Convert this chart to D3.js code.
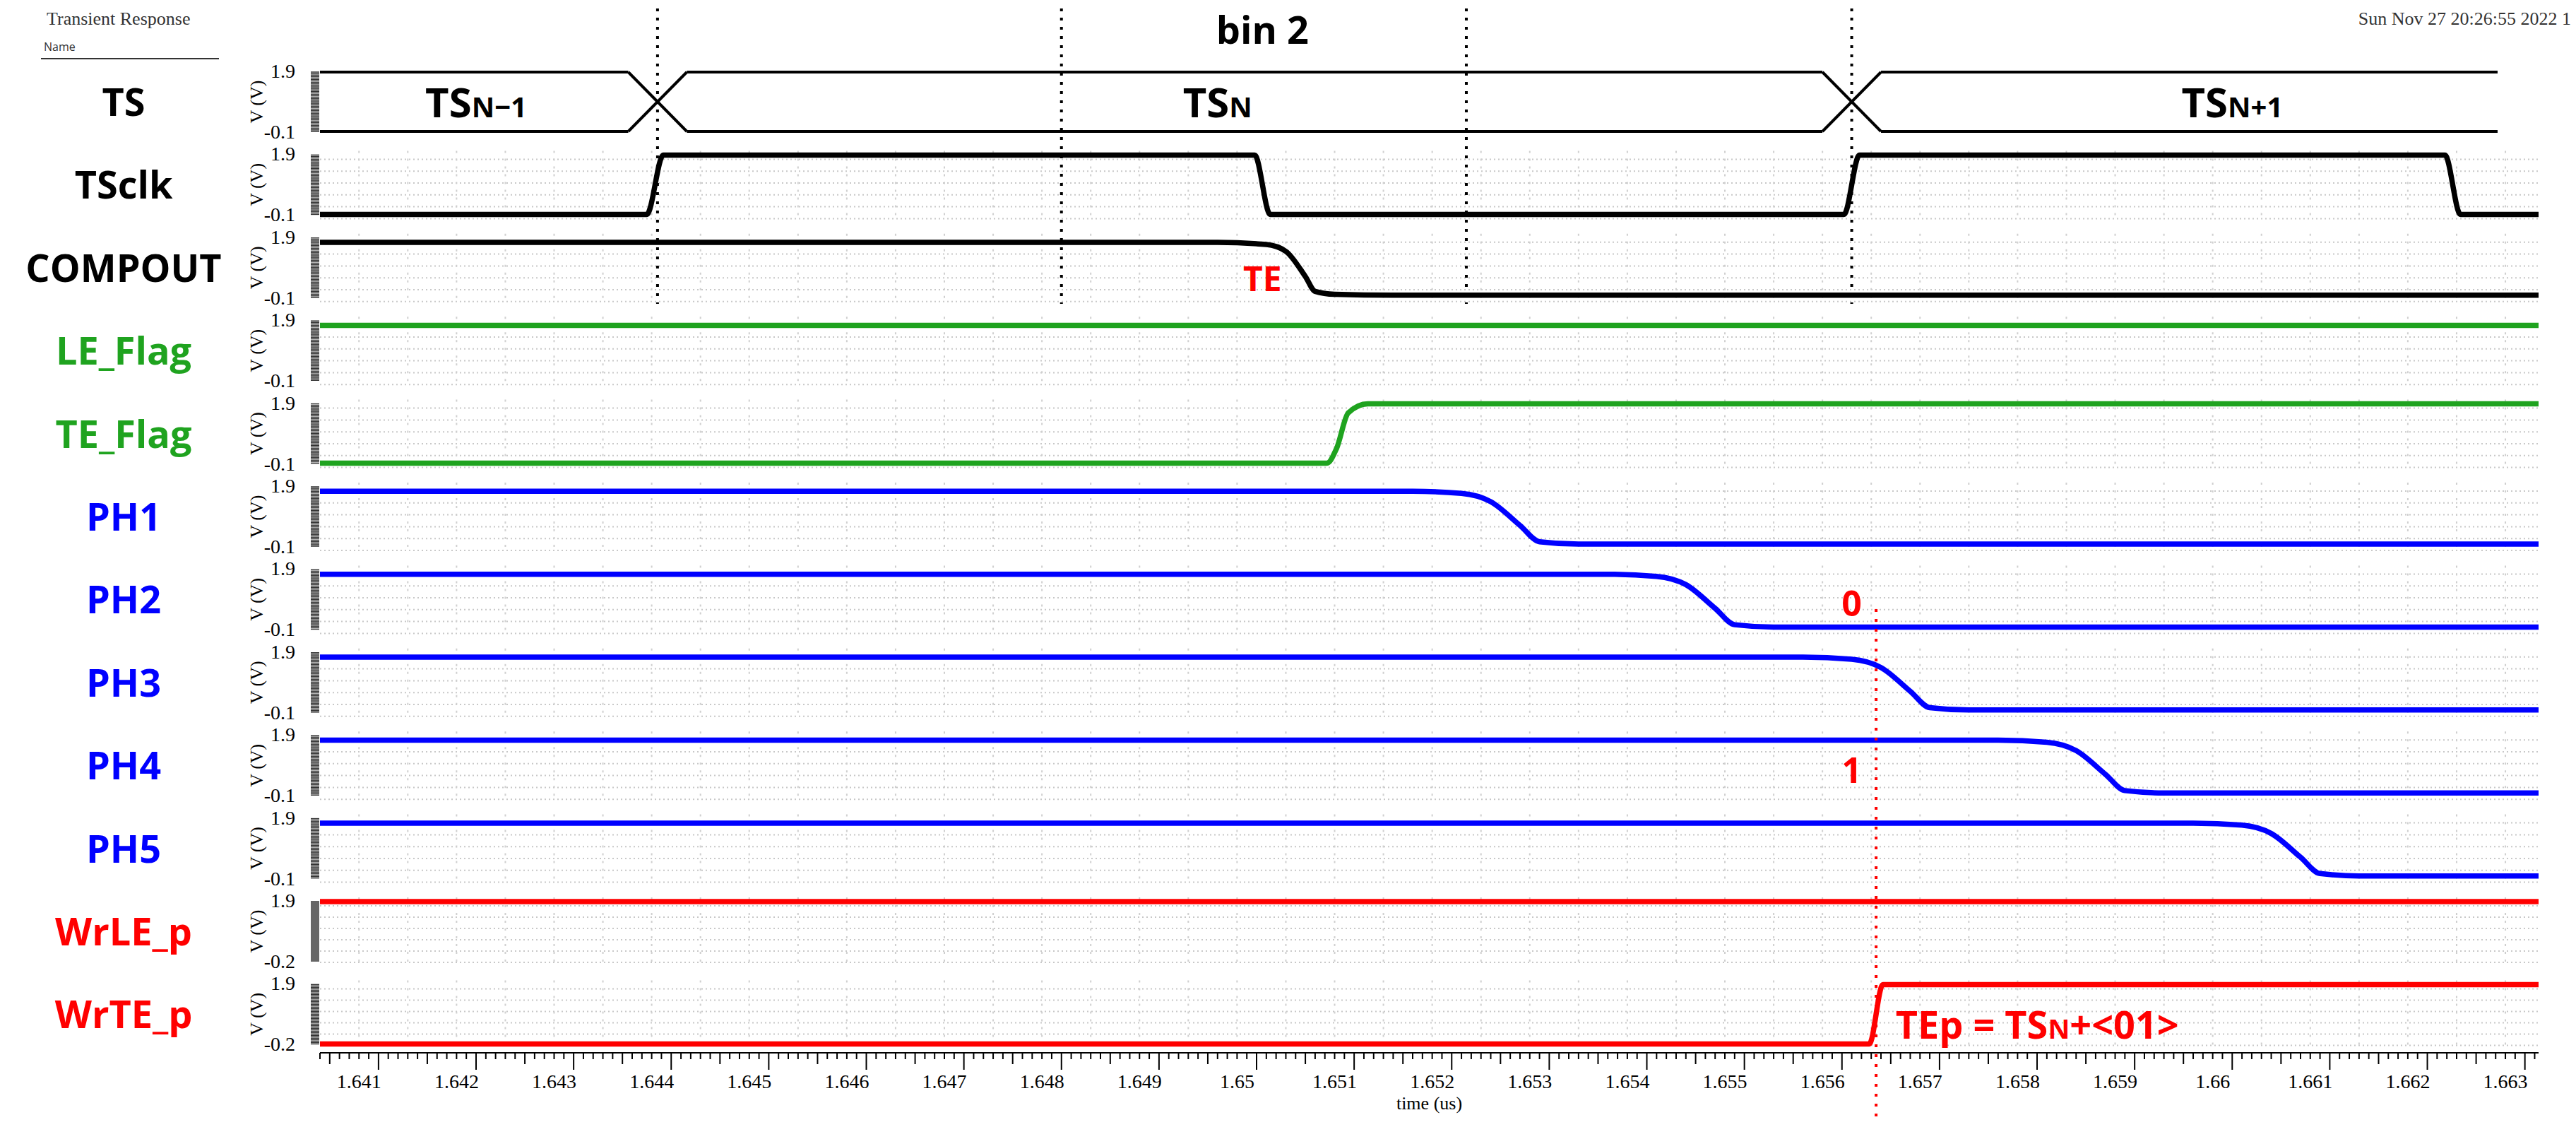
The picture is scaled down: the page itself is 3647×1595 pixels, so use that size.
<!DOCTYPE html>
<html><head><meta charset="utf-8">
<script src="https://cdn.jsdelivr.net/npm/d3@7"></script>
<style>body{margin:0;background:#fff}</style>
</head><body>
<svg id="chart" width="3647" height="1595"></svg>
<script>
// signal names & colours, top to bottom
const names = ['TS', 'TSclk', 'COMPOUT', 'LE_Flag', 'TE_Flag', 'PH1', 'PH2', 'PH3', 'PH4', 'PH5', 'WrLE_p', 'WrTE_p'];
const colors = ['#000', '#000', '#000', '#1fa31f', '#1fa31f', '#0000ff', '#0000ff', '#0000ff', '#0000ff', '#0000ff', '#ff0000', '#ff0000'];
const yMin = [-0.1, -0.1, -0.1, -0.1, -0.1, -0.1, -0.1, -0.1, -0.1, -0.1, -0.2, -0.2];
const xTicks = [1.641, 1.642, 1.643, 1.644, 1.645, 1.646, 1.647, 1.648, 1.649, 1.65, 1.651, 1.652,
  1.653, 1.654, 1.655, 1.656, 1.657, 1.658, 1.659, 1.66, 1.661, 1.662, 1.663];

// waveforms as [time (us), volts]
const tsclk = [[1.6406, -0.1], [1.64395, -0.1], [1.64412, 1.9], [1.65018, 1.9], [1.65034, -0.1],
  [1.65622, -0.1], [1.65638, 1.9], [1.66238, 1.9], [1.66254, -0.1], [1.66334, -0.1]];
const compout = [[1.6406, 1.75], [1.6498, 1.75], [1.6503, 1.68], [1.6505, 1.45], [1.6507, 0.6],
  [1.6508, 0.1], [1.651, 0.0], [1.6516, -0.03], [1.66334, -0.03]];
const leFlag = [[1.6406, 1.75], [1.66334, 1.75]];
const teFlag = [[1.6406, -0.1], [1.65092, -0.1], [1.65102, 0.4], [1.65114, 1.6], [1.65134, 1.9],
  [1.66334, 1.9]];
const ph1 = [[1.6406, 1.75], [1.6518, 1.75], [1.6523, 1.68], [1.6526, 1.4], [1.6529, 0.6],
  [1.6531, 0.05], [1.6535, -0.03], [1.66334, -0.03]];
const ph2 = [[1.6406, 1.75], [1.6538, 1.75], [1.6543, 1.68], [1.6546, 1.4], [1.6549, 0.6],
  [1.6551, 0.05], [1.6555, -0.03], [1.66334, -0.03]];
const ph3 = [[1.6406, 1.75], [1.6558, 1.75], [1.6563, 1.68], [1.6566, 1.4], [1.6569, 0.6],
  [1.6571, 0.05], [1.6575, -0.03], [1.66334, -0.03]];
const ph4 = [[1.6406, 1.75], [1.6578, 1.75], [1.6583, 1.68], [1.6586, 1.4], [1.6589, 0.6],
  [1.6591, 0.05], [1.6595, -0.03], [1.66334, -0.03]];
const ph5 = [[1.6406, 1.75], [1.6598, 1.75], [1.6603, 1.68], [1.6606, 1.4], [1.6609, 0.6],
  [1.6611, 0.05], [1.6615, -0.03], [1.66334, -0.03]];
const wrLE = [[1.6406, 1.9], [1.66334, 1.9]];
const wrTE = [[1.6406, -0.2], [1.65648, -0.2], [1.65662, 1.9], [1.66334, 1.9]];
const waves = [null, tsclk, compout, leFlag, teFlag, ph1, ph2, ph3, ph4, ph5, wrLE, wrTE];

// TS bus: crossing times and segment labels
const tsCross = [1.64406, 1.6563];
const tsEnd = 1.66292;
const tsLabels = [[1.6422, 'TS', 'N\u22121'], [1.6498, 'TS', 'N'], [1.6602, 'TS', 'N+1']];
const markers = [1.64406, 1.6482, 1.65235, 1.6563];
const redMarker = 1.65655;

const svg = d3.select('#chart');
const x = d3.scaleLinear().domain([1.6406, 1.66334]).range([453, 3594]);
const pitch = 117.4;
const top0 = 102;
const serif = '"Liberation Serif", serif';
const sans = '"Open Sans", sans-serif';

const panelY = (i) => d3.scaleLinear().domain([yMin[i], 1.9]).range([top0 + i * pitch + 84, top0 + i * pitch]);

// grid + y axes
names.forEach((n, i) => {
  const y = panelY(i);
  const g = svg.append('g');
  if (i > 0) {
    g.selectAll('line.h').data(d3.range(6)).join('line')
      .attr('x1', x.range()[0]).attr('x2', x.range()[1])
      .attr('y1', (d) => y(-0.1) - d * (y(-0.1) - y(1.9)) / 5 + 6)
      .attr('y2', (d) => y(-0.1) - d * (y(-0.1) - y(1.9)) / 5 + 6)
      .attr('stroke', '#c8c8c8').attr('stroke-width', 2).attr('stroke-dasharray', '2,4');
    g.selectAll('line.v').data(d3.range(1.641, 1.6634, 0.0005)).join('line')
      .attr('x1', (d) => x(d)).attr('x2', (d) => x(d))
      .attr('y1', y(1.9) - 6).attr('y2', y(yMin[i]) + 8)
      .attr('stroke', '#cfcfcf').attr('stroke-width', 2).attr('stroke-dasharray', '3,8');
  }
  g.selectAll('line.t').data(d3.range(yMin[i], 1.901, 0.05)).join('line')
    .attr('x1', 440).attr('x2', 452)
    .attr('y1', (d) => y(d)).attr('y2', (d) => y(d))
    .attr('stroke', '#333').attr('stroke-width', 1.5);
  g.append('text').attr('x', 418).attr('y', y(1.9) + 8).attr('text-anchor', 'end')
    .attr('font-family', serif).attr('font-size', 28).text('1.9');
  g.append('text').attr('x', 418).attr('y', y(yMin[i]) + 10).attr('text-anchor', 'end')
    .attr('font-family', serif).attr('font-size', 28).text(String(yMin[i]));
  g.append('text').attr('transform', `translate(372,${(y(1.9) + y(yMin[i])) / 2}) rotate(-90)`)
    .attr('text-anchor', 'middle').attr('font-family', serif).attr('font-size', 26).text('V (V)');
  g.append('text').attr('x', 175).attr('y', (y(1.9) + y(yMin[i])) / 2 + 20)
    .attr('text-anchor', 'middle').attr('font-family', sans).attr('font-weight', 'bold')
    .attr('font-size', 54).attr('fill', colors[i]).text(n);
});

// waveforms
const line = d3.line().x((d) => x(d[0])).curve(d3.curveMonotoneX);
waves.forEach((w, i) => {
  if (!w) return;
  const y = panelY(i);
  svg.append('path').datum(w)
    .attr('d', line.y((d) => y(d[1])))
    .attr('fill', 'none').attr('stroke', colors[i]).attr('stroke-width', 7.5);
});

// TS bus diagram
{
  const y = panelY(0);
  const h = 0.0003;
  const pts = [x.domain()[0], ...tsCross, tsEnd];
  const bus = svg.append('g').attr('fill', 'none').attr('stroke', '#000').attr('stroke-width', 4);
  for (let k = 0; k < pts.length - 1; k++) {
    const a = k === 0 ? pts[k] : pts[k] + h;
    const b = k === pts.length - 2 ? pts[k + 1] : pts[k + 1] - h;
    [1.9, -0.1].forEach((v) => bus.append('line')
      .attr('x1', x(a)).attr('x2', x(b)).attr('y1', y(v)).attr('y2', y(v)));
  }
  tsCross.forEach((c) => {
    bus.append('line').attr('x1', x(c - h)).attr('x2', x(c + h)).attr('y1', y(1.9)).attr('y2', y(-0.1));
    bus.append('line').attr('x1', x(c - h)).attr('x2', x(c + h)).attr('y1', y(-0.1)).attr('y2', y(1.9));
  });
  tsLabels.forEach(([t, a, s]) => {
    const tx = svg.append('text').attr('x', x(t)).attr('y', y(0.9) + 22)
      .attr('text-anchor', 'middle').attr('font-family', sans).attr('font-weight', 'bold').attr('font-size', 58);
    tx.append('tspan').text(a);
    tx.append('tspan').attr('font-size', 40).text(s);
  });
}

// dotted markers
markers.forEach((m) => svg.append('line').attr('x1', x(m)).attr('x2', x(m))
  .attr('y1', 12).attr('y2', 430).attr('stroke', '#000').attr('stroke-width', 4).attr('stroke-dasharray', '4,9'));
svg.append('line').attr('x1', x(redMarker)).attr('x2', x(redMarker))
  .attr('y1', 862).attr('y2', 1590).attr('stroke', '#ff0000').attr('stroke-width', 4).attr('stroke-dasharray', '4,10');

// x axis
const ax = svg.append('g').attr('transform', 'translate(0,1490)');
ax.append('line').attr('x1', x.range()[0]).attr('x2', x.range()[1]).attr('stroke', '#000').attr('stroke-width', 2);
ax.selectAll('line.m').data(d3.range(0, 228)).join('line')
  .attr('x1', (d) => x(1.6406 + d * 0.0001)).attr('x2', (d) => x(1.6406 + d * 0.0001))
  .attr('y1', 0).attr('y2', (d) => ((d + 4) % 10 === 0 ? 24 : (d + 4) % 5 === 0 ? 16 : 9))
  .attr('stroke', '#000').attr('stroke-width', 2);
ax.selectAll('text').data(xTicks).join('text')
  .attr('x', (d) => x(d)).attr('y', 50).attr('text-anchor', 'middle')
  .attr('font-family', serif).attr('font-size', 28).text((d) => String(d));
svg.append('text').attr('x', (x.range()[0] + x.range()[1]) / 2).attr('y', 1570).attr('text-anchor', 'middle')
  .attr('font-family', serif).attr('font-size', 26).text('time (us)');

// annotations
const ann = (t, yy, s, c, fs, anchor) => svg.append('text').attr('x', x(t)).attr('y', yy)
  .attr('text-anchor', anchor || 'middle').attr('font-family', sans).attr('font-weight', 'bold')
  .attr('font-size', fs).attr('fill', c).text(s);
ann(1.65026, 62, 'bin 2', '#000', 54);
ann(1.65026, 412, 'TE', '#ff0000', 48);
ann(1.6563, 872, '0', '#ff0000', 50);
ann(1.6563, 1108, '1', '#ff0000', 50);
{
  const t = ann(1.65675, 1470, 'TEp = TS', '#ff0000', 54, 'start');
  t.append('tspan').attr('font-size', 38).text('N');
  t.append('tspan').text('+<01>');
}

// header
svg.append('text').attr('x', 66).attr('y', 35).attr('font-family', serif).attr('font-size', 26).attr('fill', '#333').text('Transient Response');
svg.append('text').attr('x', 62).attr('y', 72).attr('font-family', sans).attr('font-size', 16).attr('fill', '#333').text('Name');
svg.append('line').attr('x1', 58).attr('x2', 310).attr('y1', 83).attr('y2', 83).attr('stroke', '#333').attr('stroke-width', 2);
svg.append('text').attr('x', 3640).attr('y', 35).attr('text-anchor', 'end').attr('font-family', serif).attr('font-size', 26).attr('fill', '#333')
  .text('Sun Nov 27 20:26:55 2022  1');
</script>
</body></html>
